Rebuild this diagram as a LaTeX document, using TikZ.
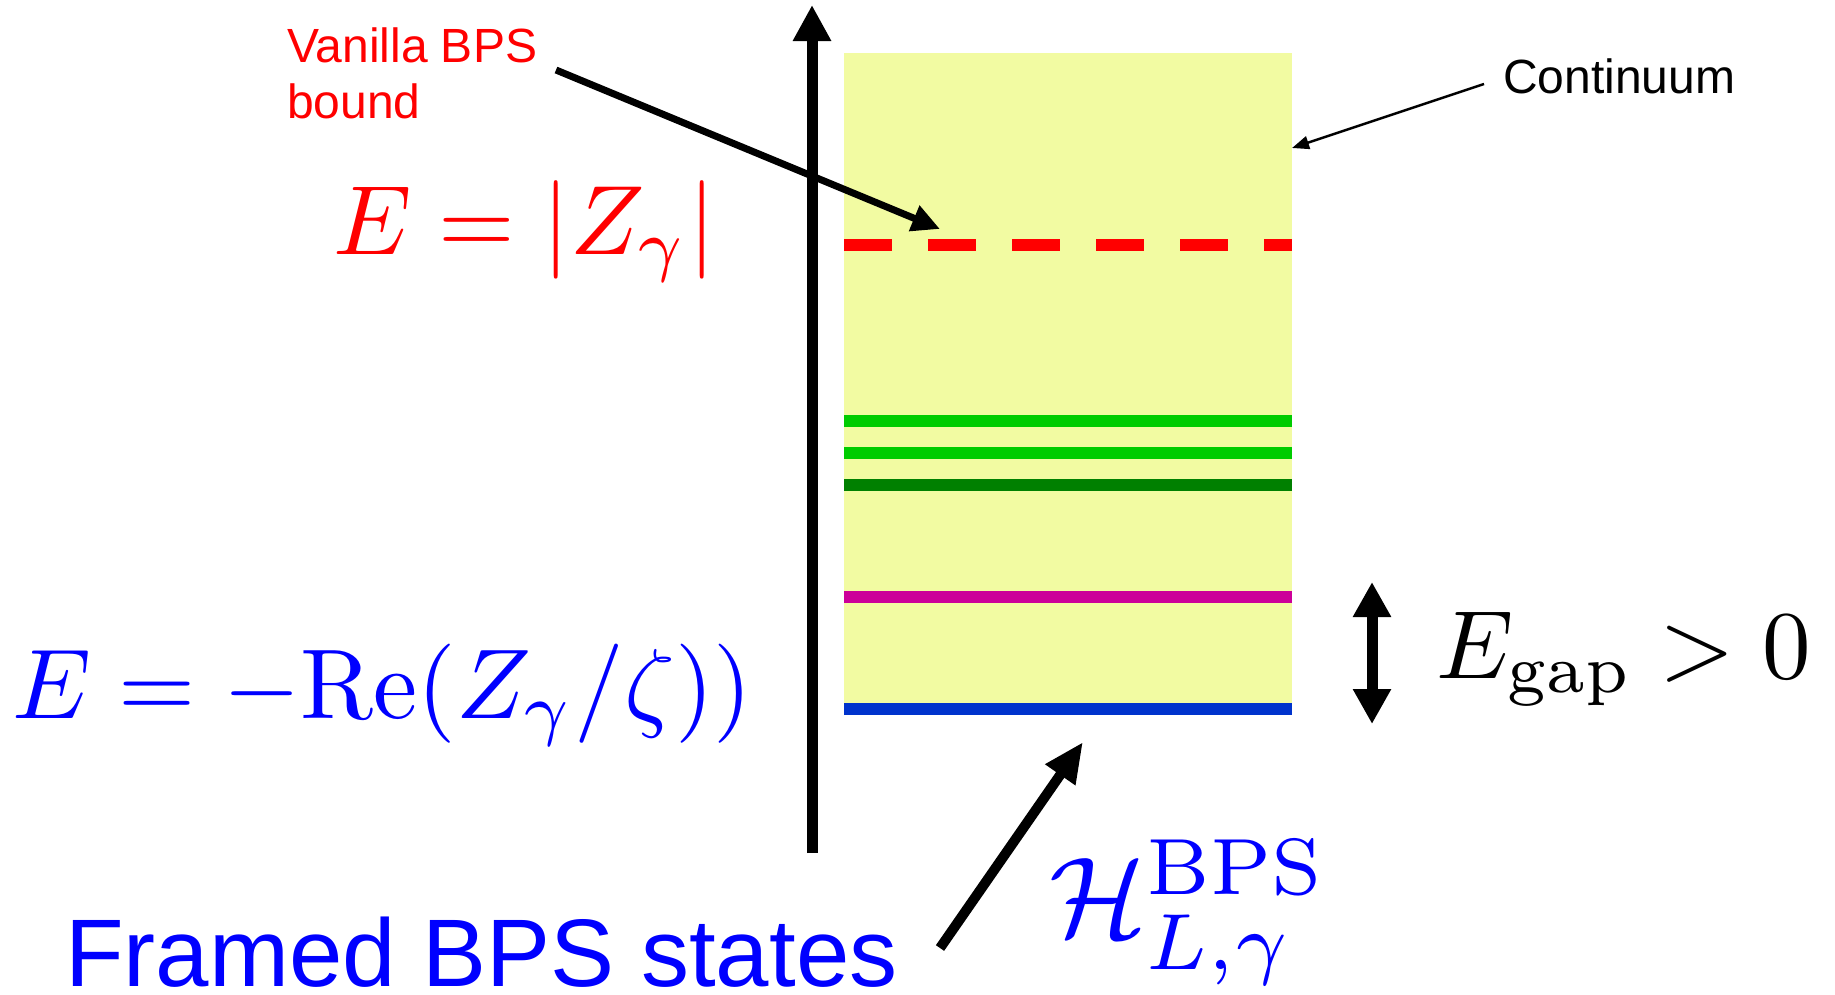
\documentclass[tikz,border=0pt]{standalone}
\usepackage{graphicx}
\usepackage{fontspec}
\newfontfamily\arial{Liberation Sans}
\usetikzlibrary{arrows.meta}
\definecolor{contyellow}{RGB}{242,251,162}
\definecolor{lgreen}{RGB}{0,204,0}
\definecolor{dgreen}{RGB}{0,128,0}
\definecolor{magentaline}{RGB}{204,0,153}
\definecolor{blueline}{RGB}{0,51,204}
\definecolor{pureblue}{RGB}{0,0,255}
\definecolor{purered}{RGB}{255,0,0}
\tikzset{
  level/.style={line width=12pt},
  sanslabel/.style={inner sep=0pt, anchor=base west, text depth=0pt, font=\arial\fontsize{#1}{#1}\selectfont},
  mathlabel/.style={inner sep=0pt, anchor=base west, font=\fontsize{10}{12}\selectfont},
}
\begin{document}
\begin{tikzpicture}[x=1pt,y=-1pt]
\useasboundingbox (0,0) rectangle (1835,994);
% continuum box
\fill[contyellow] (844,53) rectangle (1292,709);
% levels
\coordinate (dashL) at (844,245); \coordinate (dashR) at (1292,245);
\draw[level, purered, dash pattern=on 48pt off 36pt] (dashL) -- (dashR);
\coordinate (g1L) at (844,421); \coordinate (g1R) at (1292,421);
\coordinate (g2L) at (844,453); \coordinate (g2R) at (1292,453);
\coordinate (g3L) at (844,485); \coordinate (g3R) at (1292,485);
\coordinate (mL) at (844,597); \coordinate (mR) at (1292,597);
\coordinate (bL) at (844,709); \coordinate (bR) at (1292,709);
\draw[level, lgreen] (g1L) -- (g1R);
\draw[level, lgreen] (g2L) -- (g2R);
\draw[level, dgreen] (g3L) -- (g3R);
\draw[level, magentaline] (mL) -- (mR);
\draw[level, blueline] (bL) -- (bR);
% vertical axis
\coordinate (axb) at (812,853);
\coordinate (axt) at (812,5);
\draw[line width=11pt, -{Triangle[length=36pt,width=36pt]}] (axb) -- (axt);
% vanilla arrow
\coordinate (vs) at (556,70);
\coordinate (ve) at (940,229);
\draw[line width=7pt, -{Triangle[length=28pt,width=26pt]}] (vs) -- (ve);
% continuum arrow
\coordinate (cs) at (1484,84);
\coordinate (ce) at (1292,148);
\draw[line width=2.5pt, -{Triangle[length=17pt,width=13pt]}] (cs) -- (ce);
% gap arrow
\coordinate (gt) at (1372,582);
\coordinate (gb) at (1372,724);
\draw[line width=11pt, {Triangle[length=35pt,width=36pt]}-{Triangle[length=35pt,width=36pt]}] (gt) -- (gb);
% H arrow
\coordinate (hs) at (940,948);
\coordinate (he) at (1083,742);
\draw[line width=10pt, -{Triangle[length=40pt,width=34pt]}] (hs) -- (he);
% labels
\node[sanslabel=48, text=purered] (van1) at (287,62) {Vanilla BPS};
\node[sanslabel=48, text=purered] (van2) at (287,118) {bound};
\node[sanslabel=48] (cont) at (1503,93) {Continuum};
\node[sanslabel=96, text=pureblue] (framed) at (65,986) {Framed BPS states};
\node[mathlabel, text=purered] (ez) at (333,254) {\scalebox{9.85}{$E=|Z_\gamma|$}};
\node[mathlabel, text=pureblue] (ere) at (12,718) {\scalebox{9.92}{$E=-\mathrm{Re}(Z_\gamma/\zeta))$}};
\node[mathlabel] (egap) at (1436,678) {\scalebox{9.7}{$E_{\mathrm{gap}}>0$}};
\node[mathlabel, text=pureblue] (hbps) at (1049,936) {\scalebox{11.4}{$\mathcal{H}^{\mathrm{BPS}}_{L,\gamma}$}};
\end{tikzpicture}
\end{document}
